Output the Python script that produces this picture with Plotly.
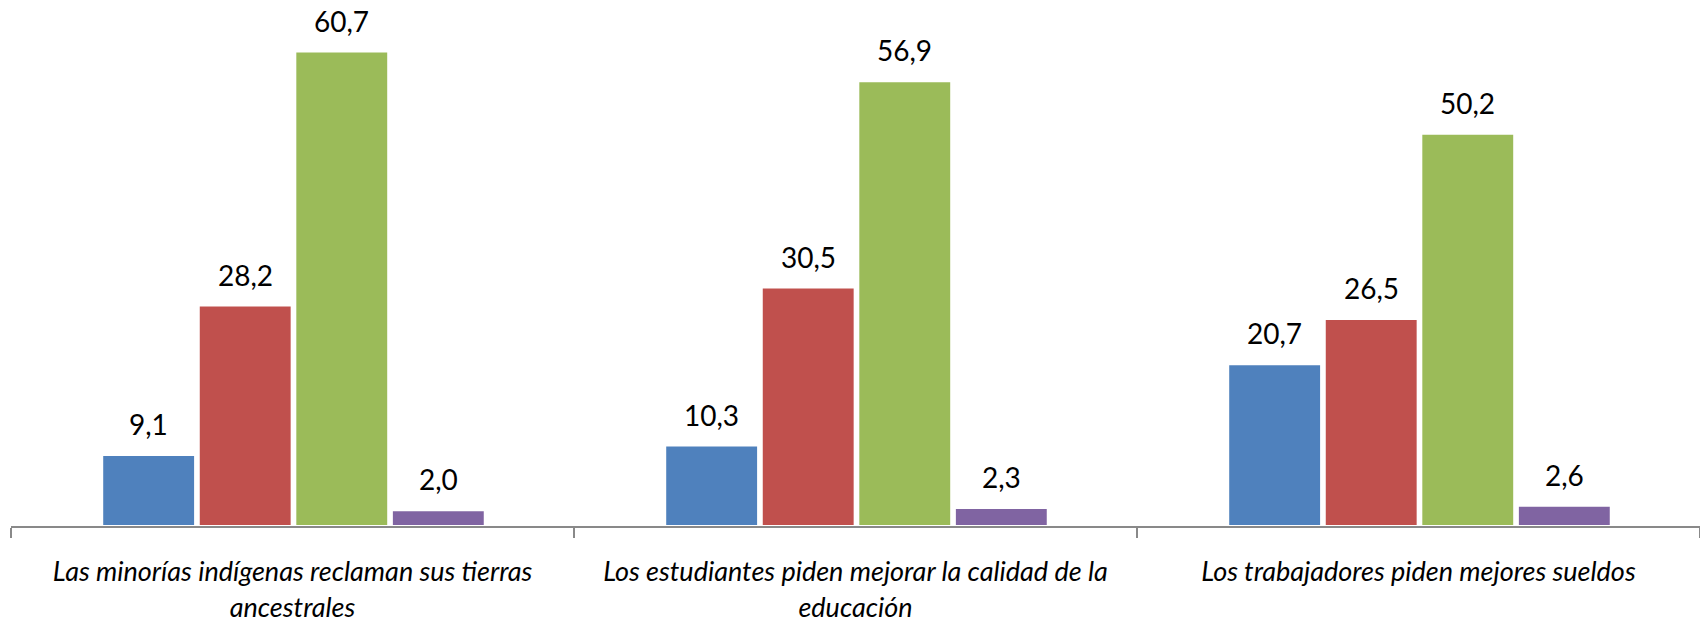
import plotly.graph_objects as go

categories = [
    "Las minorías indígenas reclaman sus tierras<br>ancestrales",
    "Los estudiantes piden mejorar la calidad de la<br>educación",
    "Los trabajadores piden mejores sueldos",
]
series_names = ["Serie 1", "Serie 2", "Serie 3", "Serie 4"]
series_values = [
    [9.1, 10.3, 20.7],
    [28.2, 30.5, 26.5],
    [60.7, 56.9, 50.2],
    [2.0, 2.3, 2.6],
]
colors = ["#4F81BD", "#C0504D", "#9BBB59", "#8064A2"]

# bar layout (in category units)
group_start = -0.338
slot = 0.1715
bar_w = 0.165

fig = go.Figure()
annotations = []
for k, (name, vals, col) in enumerate(zip(series_names, series_values, colors)):
    off = group_start + k * slot
    fig.add_trace(go.Bar(
        x=categories, y=vals, name=name,
        offset=off, width=bar_w,
        marker=dict(color=col, line=dict(color="white", width=2)),
        showlegend=False,
    ))
    for i, v in enumerate(vals):
        annotations.append(dict(
            x=i + off + bar_w / 2, y=v, xref="x", yref="y",
            text=f"{v:.1f}".replace(".", ","),
            showarrow=False, yanchor="bottom", yshift=12,
            font=dict(family="Lato", size=28, color="black"),
        ))

fig.update_layout(
    barmode="overlay",
    width=1700, height=621,
    margin=dict(l=11, r=0, t=0, b=95),
    plot_bgcolor="white",
    paper_bgcolor="white",
    annotations=annotations,
)
fig.update_xaxes(
    range=[-0.5, 2.5],
    automargin=False,
    showline=True, linecolor="#898989", linewidth=2,
    ticks="outside", tickson="boundaries", ticklen=10, tickcolor="#898989", tickwidth=2,
    tickfont=dict(family="Lato", size=27, color="black", style="italic"),
    showgrid=False,
    ticklabelstandoff=21,
)
fig.update_yaxes(range=[0, 67.3], visible=False, showgrid=False, automargin=False)

fig.write_html(
    "out.html",
    config={"displayModeBar": False},
    post_script="document.body.style.margin='0';document.body.style.overflow='hidden';",
)
